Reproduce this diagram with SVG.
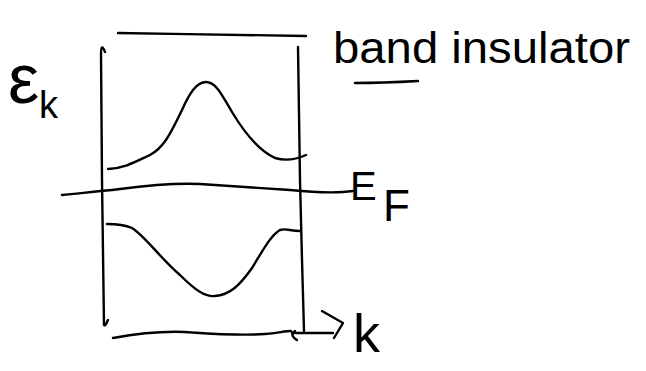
<svg xmlns="http://www.w3.org/2000/svg" width="646" height="371" viewBox="0 0 646 371">
<style>
.s{fill:none;stroke:#000;stroke-width:2.4;stroke-linecap:round;stroke-linejoin:round}
.t{font-family:"Liberation Sans",Arial,sans-serif;fill:#000}
</style>
<rect width="646" height="371" fill="#fff"/>
<g id="frame">
<path class="s" d="M118,33 C180,34 250,35 306,36"/>
<path class="s" d="M105,52 Q101,42 101,54 L102,180 L104,325 Q105,327 108,320"/>
<path class="s" d="M298,47 L300,180 L302,260 L304,331"/>
<path class="s" d="M113,338 C140,333 160,331 185,332 C215,334 240,336 265,334 C278,333 285,331 291,331"/>
<path class="s" d="M297,340 Q289,335 295,331"/>
</g>
<g id="bands">
<path class="s" d="M108,169 C125,168 135,162 150,155 C165,147 172,130 182,110 C190,92 197,82 206,82 C216,82 222,95 232,112 C244,132 258,150 275,158 C285,161 295,160 306,155"/>
<path class="s" d="M107,224 C118,224 125,225 132,228 C145,236 160,258 180,275 C195,290 205,297 215,296 C230,295 240,285 252,268 C262,252 270,236 280,230 C286,228 290,231 300,231"/>
</g>
<g id="fermi">
<path class="s" d="M62,195 C80,193 95,192 120,189 C150,185 175,183 200,184 C230,186 260,188 290,190 C320,193 340,193 353,191"/>
<text class="t" x="350" y="200" font-size="40">E<tspan x="383" y="221" font-size="44">F</tspan></text>
</g>
<g id="k-axis">
<path class="s" d="M292,333 L333,333"/>
<path class="s" d="M322,311 L343,323 L334,338"/>
<text class="t" x="353" y="352" font-size="54">k</text>
</g>
<g id="energy-label">
<text class="t" x="8" y="103" font-size="70">ε<tspan x="39" y="118" font-size="38">k</tspan></text>
</g>
<g id="title">
<text class="t" x="333" y="63" font-size="44" textLength="297" lengthAdjust="spacingAndGlyphs">band insulator</text>
<path class="s" d="M355,83 C380,83 400,82 418,81"/>
</g>
</svg>
